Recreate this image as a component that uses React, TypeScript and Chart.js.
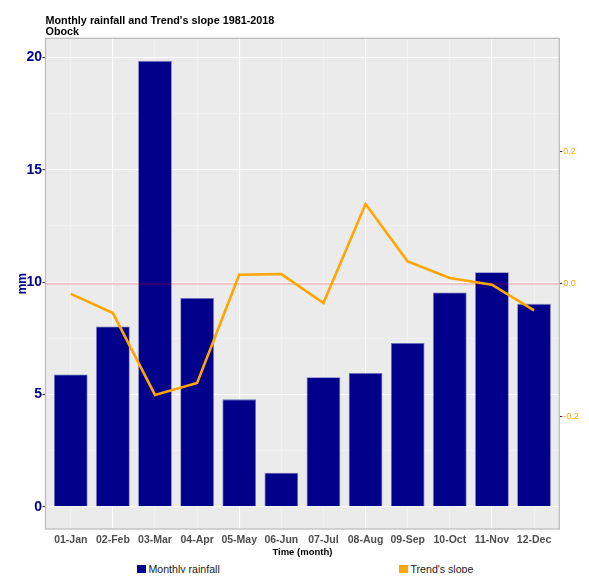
import React, { useEffect, useRef } from "react";
import { Chart, registerables } from "chart.js";

Chart.register(...registerables);

const months = ["01-Jan", "02-Feb", "03-Mar", "04-Apr", "05-May", "06-Jun", "07-Jul", "08-Aug", "09-Sep", "10-Oct", "11-Nov", "12-Dec"];
const rainfall = [5.89, 8.02, 19.85, 9.29, 4.78, 1.51, 5.76, 5.95, 7.29, 9.54, 10.44, 9.03];
const trendSlope = [-0.015, -0.044, -0.168, -0.15, 0.014, 0.015, -0.029, 0.121, 0.034, 0.009, -0.001, -0.04];
const mmTicks = [0, 5, 10, 15, 20];
const slopeTicks = [-0.2, 0, 0.2];

const TITLE = "Monthly rainfall and Trend's slope 1981-2018";
const SUBTITLE = "Obock";
const FONT = '"Liberation Sans", Arial, sans-serif';
const NAVY = "#00008B";
const ORANGE = "#FFA500";

const panelPlugin = {
  id: "panel",
  beforeDraw(chart: any) {
    const { ctx, chartArea } = chart;
    ctx.save();
    ctx.fillStyle = "#EBEBEB";
    ctx.fillRect(chartArea.left, chartArea.top, chartArea.right - chartArea.left, chartArea.bottom - chartArea.top);
    ctx.restore();
  },
  afterDatasetDraw(chart: any, args: any) {
    if (args.index !== 0) return;
    const { ctx, chartArea } = chart;
    const y = chart.scales.y2.getPixelForValue(0);
    ctx.save();
    ctx.strokeStyle = "rgba(255,0,0,0.32)";
    ctx.lineWidth = 1;
    ctx.beginPath();
    ctx.moveTo(chartArea.left, y);
    ctx.lineTo(chartArea.right, y);
    ctx.stroke();
    ctx.restore();
  },
  afterDraw(chart: any) {
    const { ctx, chartArea } = chart;
    ctx.save();
    ctx.strokeStyle = "#BDBDBD";
    ctx.lineWidth = 1.3;
    ctx.strokeRect(chartArea.left, chartArea.top, chartArea.right - chartArea.left, chartArea.bottom - chartArea.top);
    ctx.fillStyle = "#000000";
    ctx.textAlign = "left";
    ctx.textBaseline = "alphabetic";
    ctx.font = `bold 10.8px ${FONT}`;
    ctx.fillText(TITLE, chartArea.left, 16);
    ctx.fillText(SUBTITLE, chartArea.left, 26.6);
    ctx.restore();
  },
};

export default function App() {
  const ref = useRef<HTMLCanvasElement | null>(null);

  useEffect(() => {
    if (!ref.current) return;
    const chart = new Chart(ref.current, {
      type: "bar",
      data: {
        datasets: [
          {
            type: "bar",
            label: "Monthly rainfall",
            data: rainfall.map((v, i) => ({ x: i, y: v })),
            backgroundColor: NAVY,
            borderColor: "rgba(100,100,190,0.9)",
            borderWidth: 0.8,
            categoryPercentage: 1,
            barPercentage: 0.8,
            xAxisID: "x",
            yAxisID: "y",
            order: 1,
          } as any,
          {
            type: "line",
            label: "Trend's slope",
            data: trendSlope.map((v, i) => ({ x: i, y: v })),
            borderColor: ORANGE,
            backgroundColor: ORANGE,
            borderWidth: 2.6,
            pointRadius: 0,
            tension: 0,
            xAxisID: "x",
            yAxisID: "y2",
            order: 0,
          } as any,
        ],
      },
      plugins: [panelPlugin],
      options: {
        animation: false,
        responsive: true,
        maintainAspectRatio: false,
        devicePixelRatio: 1,
        layout: { padding: { top: 30.3, left: 0, right: 0, bottom: 0 } },
        plugins: {
          legend: { display: false },
          title: { display: false },
          tooltip: { enabled: false },
        },
        scales: {
          x: {
            type: "linear",
            position: "bottom",
            offset: false,
            min: -0.6,
            max: 11.6,
            afterBuildTicks: (s: any) => {
              s.ticks = months.map((_, i) => ({ value: i }));
            },
            afterFit: (s: any) => {
              s.height = 31;
            },
            ticks: {
              callback: (v: any) => months[v],
              color: "#4D4D4D",
              font: { family: FONT, size: 10.5, weight: "bold" },
              padding: 4.5,
              maxRotation: 0,
              autoSkip: false,
            },
            grid: {
              offset: false,
              color: (c: any) => (c.index % 3 === 1 ? "#FFFFFF" : "#F3F3F3"),
              lineWidth: (c: any) => (c.index % 3 === 1 ? 1.1 : 0.8),
              drawTicks: false,
            },
            border: { display: false },
            title: {
              display: true,
              text: "Time (month)",
              color: "#000000",
              font: { family: FONT, size: 9.5, weight: "bold" },
              padding: { top: 0, bottom: 2 },
            },
          },
          y: {
            type: "linear",
            position: "left",
            min: -0.993,
            max: 20.853,
            ticks: {
              stepSize: 2.5,
              includeBounds: false,
              callback: (v: any) => (mmTicks.includes(v) ? String(v) : ""),
              color: NAVY,
              font: { family: FONT, size: 14, weight: "bold" },
              padding: 0.5,
            },
            afterFit: (s: any) => {
              s.width = 37.5;
            },
            grid: {
              color: (c: any) => (c.tick && mmTicks.includes(c.tick.value) ? "#FFFFFF" : "#F3F3F3"),
              lineWidth: (c: any) => (c.tick && mmTicks.includes(c.tick.value) ? 1.1 : 0.8),
              tickColor: (c: any) => (c.tick && mmTicks.includes(c.tick.value) ? "#333333" : "rgba(0,0,0,0)"),
              tickLength: 3,
              drawTicks: true,
            },
            border: { display: false },
            title: {
              display: true,
              text: "mm",
              color: NAVY,
              font: { family: FONT, size: 12, weight: "bold" },
              padding: { top: 7.5, bottom: 0 },
            },
          },
          y2: {
            type: "linear",
            position: "right",
            min: -0.371,
            max: 0.372,
            afterBuildTicks: (s: any) => {
              s.ticks = slopeTicks.map((v) => ({ value: v }));
            },
            afterFit: (s: any) => {
              s.width = 21.7;
            },
            ticks: {
              callback: (v: any) => Number(v).toFixed(1),
              color: ORANGE,
              font: { family: FONT, size: 9 },
              padding: 1,
            },
            grid: {
              drawOnChartArea: false,
              tickLength: 3,
              tickColor: "#333333",
              drawTicks: true,
            },
            border: { display: false },
          },
        },
      } as any,
    });
    return () => chart.destroy();
  }, []);

  const legendText: React.CSSProperties = {
    fontFamily: FONT,
    fontSize: "10.6px",
    color: "#1A1A1A",
    lineHeight: "12px",
    whiteSpace: "nowrap",
  };
  const square = (c: string): React.CSSProperties => ({
    width: 9,
    height: 9,
    background: c,
    marginRight: 2.5,
    flex: "none",
  });

  return (
    <div style={{ position: "relative", width: 573, height: 565 }}>
      <div style={{ position: "absolute", left: 0, top: 0, width: 573, height: 552 }}>
        <canvas ref={ref} />
      </div>
      <div style={{ position: "absolute", left: 129, top: 555, display: "flex", alignItems: "center" }}>
        <div style={square(NAVY)} />
        <span style={legendText}>Monthly rainfall</span>
      </div>
      <div style={{ position: "absolute", left: 391, top: 555, display: "flex", alignItems: "center" }}>
        <div style={square(ORANGE)} />
        <span style={legendText}>Trend's slope</span>
      </div>
    </div>
  );
}
